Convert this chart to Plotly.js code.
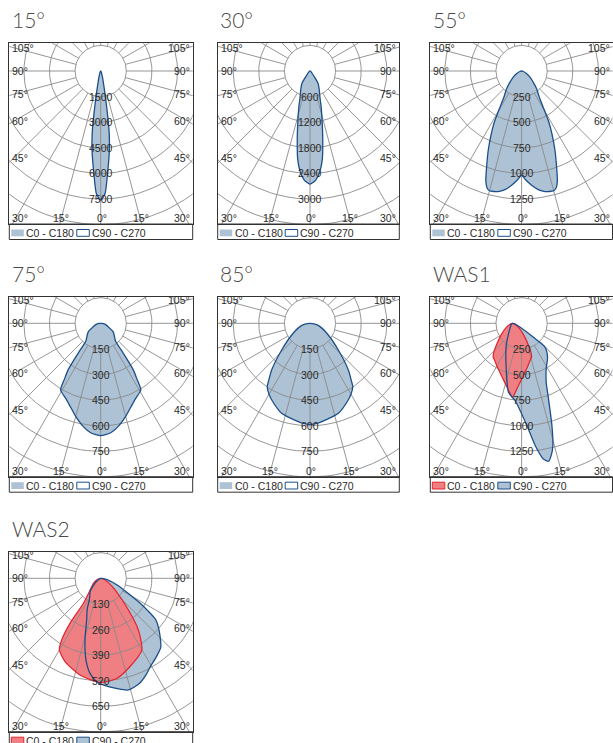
<!DOCTYPE html>
<html><head><meta charset="utf-8">
<script src="https://cdn.plot.ly/plotly-3.0.1.min.js"></script>
<style>html,body{margin:0;padding:0;background:#fff}#chart{width:613px;height:743px}</style>
</head><body><div id="chart"></div>
<script>
// ---------- data ----------
const titles = ['15°', '30°', '55°', '75°', '85°', 'WAS1', 'WAS2'];
const ringSteps = [1500, 600, 250, 150, 150, 250, 130];
const legendNames = ['C0 - C180', 'C90 - C270'];
const angleLabelsSide = [105, 90, 75, 60, 45];

// symmetric distributions: gamma (deg from nadir, >=0) and intensity (cd)
const p15Ang = [0, 2, 4, 6, 7, 8, 9, 10, 11, 12, 14, 16, 20, 25, 30, 45, 60, 90];
const p15Val = [7560, 7200, 5900, 4800, 4200, 3500, 2500, 1700, 1200, 900, 550, 350, 180, 90, 50, 20, 10, 0];

const p30Ang = [0, 3, 5.5, 8, 10.5, 13.5, 17, 21, 25, 29, 33, 36, 40, 50, 60, 90];
const p30Val = [2650, 2560, 2380, 2080, 1640, 1220, 900, 645, 520, 430, 344, 200, 100, 40, 15, 0];

const p55Ang = [0, 2, 5, 8, 11, 15, 16.5, 18, 20, 23, 28, 34, 40, 45, 55, 65, 75, 90];
const p55Val = [1016, 1060, 1120, 1170, 1200, 1211, 1190, 1130, 1000, 830, 570, 310, 230, 170, 95, 45, 18, 0];

const p75Ang = [0, 5, 10, 15, 20, 25, 31, 33, 35, 37, 40, 50, 56, 65, 75, 85, 90];
const p75Val = [658, 645, 610, 565, 520, 485, 456, 390, 333, 220, 135, 102, 87, 50, 30, 10, 0];

const p85Ang = [0, 5, 10, 17.5, 26.5, 30, 34, 36, 39.4, 46.7, 57.4, 71.7, 80, 90];
const p85Val = [592, 585, 572, 553, 502, 480, 448, 410, 354, 228, 127, 62, 30, 0];

// WAS1 (curves drawn from an origin shifted left, in cd)
const was1OriginX = -90;
const was1C0Ang = [0, 4, 10, 18, 25, 30, 33, 36, 40, 45, 55, 70, 90];   // symmetric half
const was1C0Val = [723, 640, 545, 460, 405, 376, 330, 270, 205, 150, 75, 25, 0];
const was1C90Ang = [-90, -40, -25, -20, -15.5, -7.7, -3.2, 2.1, 8.1, 10.6, 12.9, 14.7, 16.5, 18.3, 21.1, 25.5, 29.8, 36.5, 45.9, 53.8, 56.4, 62.9, 75, 90];
const was1C90Val = [0, 20, 60, 111, 227, 450, 675, 757, 1010, 1216, 1360, 1393, 1340, 1259, 1073, 820, 664, 555, 478, 397, 247, 86, 25, 0];

// WAS2
const was2C0Ang = [-90, -70, -55.7, -40.4, -34.7, -34.3, -32.3, -30, -23.2, -12.1, 0, 9.1, 18.4, 29.8, 36.1, 41.2, 50.9, 60.5, 75, 90];
const was2C0Val = [0, 20, 45, 89, 154, 277, 371, 420, 460, 502, 530, 515, 472, 420, 325, 214, 94, 45, 15, 0];
const was2C90Ang = [-90, -60, -44, -38, -27.6, -24, -18.6, -14.3, -10.2, -6.4, -2.2, 4.1, 13.9, 20, 25.4, 29.2, 35, 41, 48, 53, 55.5, 58, 62, 68, 75, 82, 90];
const was2C90Val = [0, 15, 59, 87, 124, 167, 224, 323, 422, 486, 526, 552, 584, 570, 540, 515, 490, 465, 400, 350, 290, 230, 150, 90, 45, 15, 0];

// ---------- helpers ----------
const W = 613, H = 743;
const px = x => x / W, py = y => 1 - y / H;
const d2r = Math.PI / 180;
const colL = [9.3, 217.7, 430.3], colR = [192.7, 399.3, 612.5], colCx = [100.7, 310, 521.6];
const rowT = [43.3, 296.7, 551.7], rowB = [224, 476.7, 731.7], rowCy = [71, 323.3, 578.3];
const PPR = 25.6; // pixels per ring

const C = {blueFill: '#adc2d5', blueLine: '#1b4f8a', redFill: '#f07f83', redLine: '#e3232b', grid: '#8a8a8a', border: '#333333', text: '#2a2a2a', title: '#4a4a4a'};

function mirror(ang, val) {
  const a = [], v = [];
  for (let i = ang.length - 1; i > 0; i--) { a.push(-ang[i]); v.push(val[i]); }
  for (let i = 0; i < ang.length; i++) { a.push(ang[i]); v.push(val[i]); }
  return [a, v];
}
function toXY(ang, val, ox) {
  const x = [], y = [];
  for (let i = 0; i < ang.length; i++) {
    x.push(ox + val[i] * Math.sin(ang[i] * d2r));
    y.push(-val[i] * Math.cos(ang[i] * d2r));
  }
  return {x, y};
}

const panels = [
  {sym: true, c0: mirror(p15Ang, p15Val), c90: mirror(p15Ang, p15Val), ox: 0},
  {sym: true, c0: mirror(p30Ang, p30Val), c90: mirror(p30Ang, p30Val), ox: 0},
  {sym: true, c0: mirror(p55Ang, p55Val), c90: mirror(p55Ang, p55Val), ox: 0},
  {sym: true, c0: mirror(p75Ang, p75Val), c90: mirror(p75Ang, p75Val), ox: 0},
  {sym: true, c0: mirror(p85Ang, p85Val), c90: mirror(p85Ang, p85Val), ox: 0},
  {sym: false, c0: mirror(was1C0Ang, was1C0Val), c90: [was1C90Ang, was1C90Val], ox: was1OriginX},
  {sym: false, c0: [was2C0Ang, was2C0Val], c90: [was2C90Ang, was2C90Val], ox: 0}
];

const traces = [], shapes = [], annotations = [];
const layout = {width: W, height: H, margin: {l: 0, r: 0, t: 0, b: 0}, showlegend: false,
  paper_bgcolor: '#fff', plot_bgcolor: '#fff', hovermode: false};
const lineSpline = {shape: 'spline', smoothing: 0.6};
const labelFont = {family: 'Arial, Liberation Sans, sans-serif', size: 10.5, color: C.text};

panels.forEach((p, i) => {
  const row = Math.floor(i / 3), col = i % 3;
  const L = colL[col], R = colR[col], cx = colCx[col], T = rowT[row], B = rowB[row], cy = rowCy[row];
  const step = ringSteps[i];
  const s = step / PPR; // cd per pixel
  const xa = 'x' + (i ? i + 1 : ''), ya = 'y' + (i ? i + 1 : '');
  const axCommon = {showgrid: false, zeroline: false, showticklabels: false, ticks: '', showline: true, mirror: true,
    linecolor: C.border, linewidth: 1, fixedrange: true};
  layout['xaxis' + (i ? i + 1 : '')] = Object.assign({domain: [px(L), px(R)], range: [(L - cx) * s, (R - cx) * s], anchor: ya}, axCommon);
  layout['yaxis' + (i ? i + 1 : '')] = Object.assign({domain: [py(B), py(T)], range: [-(B - cy) * s, (cy - T) * s], anchor: xa}, axCommon);

  const c0 = toXY(p.c0[0], p.c0[1], p.ox), c90 = toXY(p.c90[0], p.c90[1], p.ox);
  const base = {type: 'scatter', mode: 'lines', xaxis: xa, yaxis: ya, hoverinfo: 'skip'};
  if (p.sym) {
    traces.push(Object.assign({}, base, c0, {name: legendNames[0], fill: 'toself', fillcolor: C.blueFill, line: Object.assign({width: 0, color: C.blueFill}, lineSpline)}));
  } else {
    traces.push(Object.assign({}, base, c90, {name: legendNames[1], fill: 'toself', fillcolor: C.blueFill, line: Object.assign({width: 0, color: C.blueFill}, lineSpline)}));
    traces.push(Object.assign({}, base, c0, {name: legendNames[0], fill: 'toself', fillcolor: C.redFill, line: Object.assign({width: 0, color: C.redFill}, lineSpline)}));
  }
  // grid: rings and spokes
  const gx = [], gy = [];
  for (let k = 1; k <= 8; k++) {
    for (let a = 0; a <= 360; a += 3) { gx.push(k * step * Math.sin(a * d2r)); gy.push(-k * step * Math.cos(a * d2r)); }
    gx.push(null); gy.push(null);
  }
  for (let a = 0; a < 360; a += 15) {
    gx.push(step * Math.sin(a * d2r), 9 * step * Math.sin(a * d2r), null);
    gy.push(-step * Math.cos(a * d2r), -9 * step * Math.cos(a * d2r), null);
  }
  traces.push(Object.assign({}, base, {x: gx, y: gy, line: {color: C.grid, width: 0.9}, connectgaps: false}));
  if (!p.sym) {
    traces.push(Object.assign({}, base, c0, {line: Object.assign({width: 1.2, color: C.redLine}, lineSpline)}));
  }
  traces.push(Object.assign({}, base, c90, {line: Object.assign({width: 1.3, color: C.blueLine}, lineSpline)}));

  // ring value labels
  for (let k = 1; k <= 5; k++) {
    annotations.push({xref: xa, yref: ya, x: 0, y: -k * step, text: String(k * step), showarrow: false,
      xanchor: 'center', yanchor: 'middle', font: labelFont});
  }
  // side angle labels
  angleLabelsSide.forEach(th => {
    const off = th === 90 ? 0 : 86.7 / Math.tan(th * d2r);
    const yy = py(cy + off);
    annotations.push({xref: 'paper', yref: 'paper', x: px(L + 1), y: yy, text: th + '°', showarrow: false, xanchor: 'left', yanchor: 'middle', font: labelFont});
    annotations.push({xref: 'paper', yref: 'paper', x: px(R - 1), y: yy, text: th + '°', showarrow: false, xanchor: 'right', yanchor: 'middle', font: labelFont});
  });
  const yb = py(B - 5.7);
  annotations.push({xref: 'paper', yref: 'paper', x: px(L + 1), y: yb, text: '30°', showarrow: false, xanchor: 'left', yanchor: 'middle', font: labelFont});
  annotations.push({xref: 'paper', yref: 'paper', x: px(R - 1), y: yb, text: '30°', showarrow: false, xanchor: 'right', yanchor: 'middle', font: labelFont});
  const dx15 = (B - 5.7 - cy) * Math.tan(15 * d2r);
  [[-dx15, '15°'], [1, '0°'], [dx15 + 1, '15°']].forEach(([d, t]) => {
    annotations.push({xref: 'paper', yref: 'paper', x: px(cx + d), y: yb, text: t, showarrow: false, xanchor: 'center', yanchor: 'middle', font: labelFont});
  });
  // title
  annotations.push({xref: 'paper', yref: 'paper', x: px(L + 0.5), y: py(T - 9), text: titles[i], showarrow: false,
    xanchor: 'left', yanchor: 'bottom', font: {family: 'Lato, DejaVu Sans, sans-serif', size: 21, color: C.title, weight: 300}});
  // legend box
  shapes.push({type: 'rect', xref: 'paper', yref: 'paper', x0: px(L), x1: px(R), y0: py(B), y1: py(B + 15.5), line: {color: C.border, width: 1}, fillcolor: 'rgba(0,0,0,0)'});
  const sw = [
    p.sym ? {fill: C.blueFill, line: C.blueFill, w: 0} : {fill: C.redFill, line: C.redLine, w: 1},
    p.sym ? {fill: '#ffffff', line: C.blueLine, w: 1} : {fill: C.blueFill, line: C.blueLine, w: 1}
  ];
  const sx = [L + 2, L + 67.5];
  sw.forEach((q, j) => {
    shapes.push({type: 'rect', xref: 'paper', yref: 'paper', x0: px(sx[j]), x1: px(sx[j] + 12.5), y0: py(B + 5.5), y1: py(B + 12.3),
      line: {color: q.line, width: q.w}, fillcolor: q.fill});
    annotations.push({xref: 'paper', yref: 'paper', x: px(sx[j] + 12.8), y: py(B + 8.8), text: legendNames[j], showarrow: false,
      xanchor: 'left', yanchor: 'middle', font: labelFont});
  });
});
layout.shapes = shapes;
layout.annotations = annotations;
Plotly.newPlot('chart', traces, layout, {staticPlot: true, displayModeBar: false});
</script>
</body></html>
